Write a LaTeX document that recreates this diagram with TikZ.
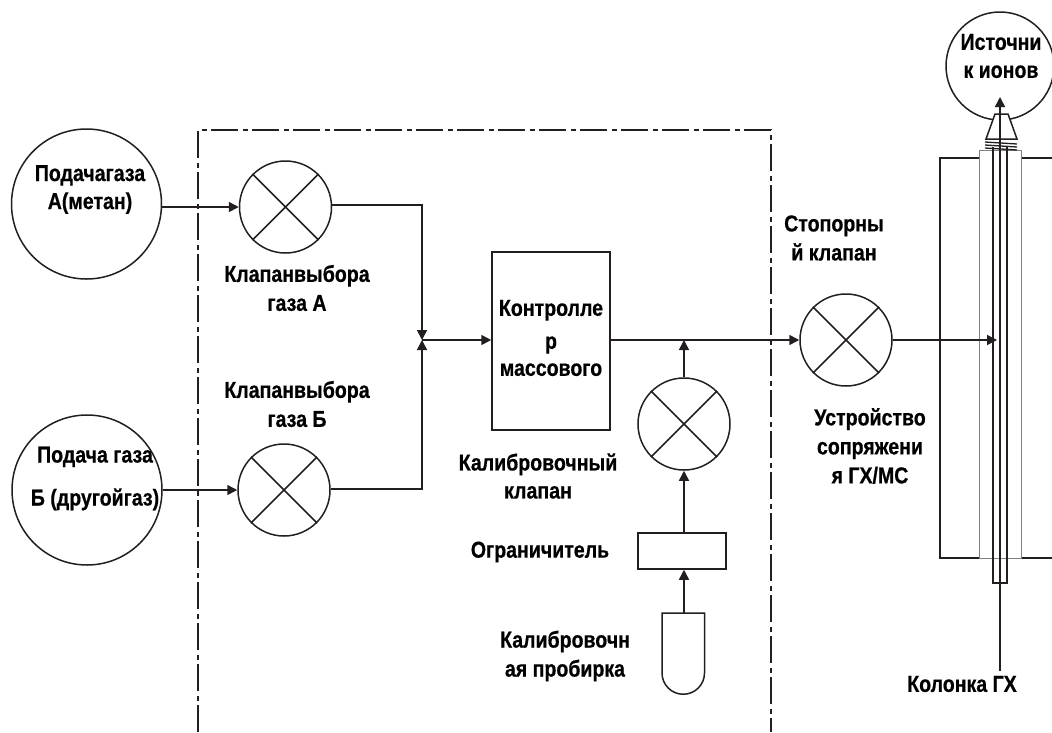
\documentclass[tikz,border=0pt]{standalone}
\usepackage{fontspec}
\setmainfont{Liberation Sans}[FakeStretch=0.85,BoldFeatures={FakeBold=0.6}]
\usetikzlibrary{arrows.meta}
\definecolor{ink}{HTML}{231F20}
\newcommand{\lab}{\fontsize{23}{29}\selectfont\bfseries}
\tikzset{
  x=1pt,y=-1pt,
  line/.style={draw=ink,line width=1.5pt},
  conn/.style={line,-{Triangle[length=10pt,width=10pt]}},
  circ/.style={circle,line,inner sep=0pt,minimum size=#1},
  box/.style={rectangle,line,inner sep=0pt},
  lbl/.style={align=center,font=\lab,text=black,inner sep=0pt},
  dd/.style={draw=ink,line width=1.7pt,dash pattern=on 27pt off 4.5pt on 5pt off 4.5pt},
  inner/.style={draw=black!50,line width=0.9pt}
}
\newcommand{\crossvalve}[1]{\draw[line] (#1.45)--(#1.225) (#1.135)--(#1.315);}
\begin{document}
\begin{tikzpicture}
\useasboundingbox (0,0) rectangle (1052,732);
\begin{scope}
\clip (0,0) rectangle (1052,732);
% dashed enclosure
\coordinate (dBL) at (198,732);
\coordinate (dTL) at (198,130);
\coordinate (dTR) at (771,130);
\coordinate (dBR) at (771,732);
\draw[dd] (dBL)--(dTL)--(dTR)--(dBR);

% nodes
\node[circ=150pt] (srcA) at (86.5,204) {};
\node[circ=150pt] (srcB) at (87,490) {};
\node[circ=92pt] (vA) at (285.5,207) {};
\node[circ=92pt] (vB) at (284,490) {};
\node[circ=92pt] (vStop) at (846,340) {};
\node[circ=92pt] (vCal) at (684,424) {};
\crossvalve{vA}\crossvalve{vB}\crossvalve{vStop}\crossvalve{vCal}
\node[box,minimum width=118pt,minimum height=178pt] (mfc) at (551,341) {};
\node[box,minimum width=88pt,minimum height=36pt] (restr) at (682,551) {};

% vial
\coordinate (vialT) at (684,613);
\draw[line] (662,673) -- (662,613) -- (704.5,613) -- (704.5,673) arc[start angle=0,end angle=-180,radius=21.25pt];

% interface
\draw[line] (1052,158) -- (1021,158) (979,158) -- (940,158) -- (940,558) -- (979,558) (1021,558) -- (1052,558);
\draw[inner] (979,558) -- (979,150) -- (1021,150) -- (1021,558) -- cycle;
\draw[line,line width=1.4pt] (993,147) -- (993,583) -- (1007,583) -- (1007,147);

% ion source
\node[circ=108pt,fill=white] (ion) at (1000,66) {};
\draw[line,fill=white] (986,139) -- (995,114) -- (1008,114) -- (1017,139) -- cycle;
\foreach \y in {142,145,148}{\draw[line,line width=1.3pt] (985,\y) -- (1017,\y+2);}

% column
\coordinate (colB) at (1000,671);
\coordinate (colT) at (1000,97);
\draw[conn] (colB) -- (colT);

% junction
\coordinate (j) at (422,340);
\coordinate (aOut) at (422,205);
\coordinate (bOut) at (422,489);
\coordinate (ifIn) at (997,340);
\coordinate (mj) at (684,340);
\draw[conn] (vA.east |- aOut) -- (aOut) -- (j);
\draw[conn] (vB.east |- bOut) -- (bOut) -- (j);
\draw[conn] (j) -- (mfc.west |- j);
\draw[conn] (srcA.east |- 0,207) -- (vA.west);
\draw[conn] (srcB.east) -- (vB.west);
\draw[conn] (mfc.east |- j) -- (vStop.west);
\draw[conn] (vCal.north) -- (mj);
\draw[conn] (restr.north -| vCal) -- (vCal.south);
\draw[conn] (vialT) -- (restr.south -| vialT);
\draw[conn] (vStop.east) -- (ifIn);

% labels
\node[lbl] (tA) at (90,189.5) {Подачагаза\\[-1pt]А(метан)};
\node[lbl] (tB) at (95,478.5) {Подача газа\\[14pt]Б (другойгаз)};
\node[lbl] (tVA) at (297,288) {Клапанвыбора\\газа А};
\node[lbl] (tVB) at (297,404) {Клапанвыбора\\газа Б};
\node[lbl] (tM) at (551,338) {Контролле\\[4pt]р\\[-2pt]массового};
\node[lbl] (tS) at (834,238) {Стопорны\\й клапан};
\node[lbl] (tC) at (538,476) {Калибровочный\\[-1pt]клапан};
\node[lbl] (tR) at (540,552) {Ограничитель};
\node[lbl] (tV) at (565,656) {Калибровочн\\ая пробирка};
\node[lbl] (tI) at (870,446) {Устройство\\сопряжени\\я ГХ/МС};
\node[lbl] (tG) at (962,684) {Колонка ГХ};
\node[lbl] (tO) at (1001,56) {Источни\\[-1pt]к ионов};
\end{scope}
\end{tikzpicture}
\end{document}
